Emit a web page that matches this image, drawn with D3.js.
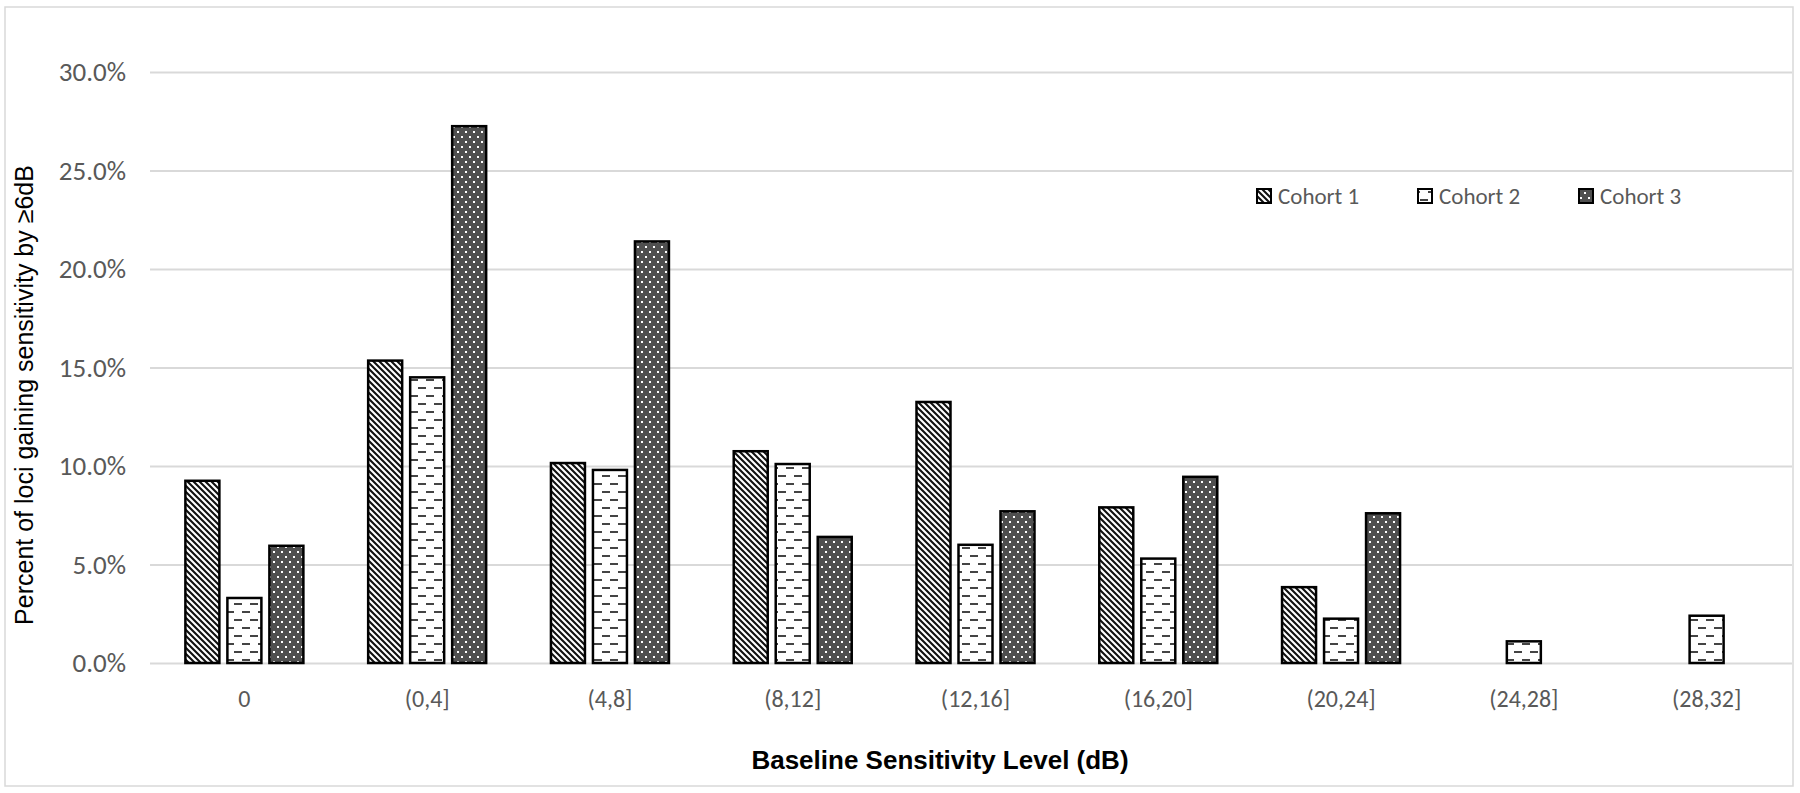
<!DOCTYPE html>
<html>
<head>
<meta charset="utf-8">
<script src="https://cdn.jsdelivr.net/npm/d3@7"></script>
<style>
  html, body { margin: 0; padding: 0; background: #ffffff; }
  svg { display: block; }
</style>
</head>
<body>
<div id="chart"></div>
<script>
// data (percent)
const categories = ["0", "(0,4]", "(4,8]", "(8,12]", "(12,16]", "(16,20]", "(20,24]", "(24,28]", "(28,32]"];
const seriesNames = ["Cohort 1", "Cohort 2", "Cohort 3"];
const cohort1 = [9.25, 15.35, 10.15, 10.75, 13.25, 7.9, 3.85, 0, 0];
const cohort2 = [3.3, 14.5, 9.8, 10.1, 6.0, 5.3, 2.25, 1.1, 2.4];
const cohort3 = [5.95, 27.25, 21.4, 6.4, 7.7, 9.45, 7.6, 0, 0];
const yTicks = [0, 5, 10, 15, 20, 25, 30];

const W = 1800, H = 793;
const plot = { left: 150, right: 1792, top: 72, bottom: 663 };
const labelFont = "Calibri, Carlito, Lato, sans-serif";
const titleFont = "Arial, 'Liberation Sans', sans-serif";

const seriesValues = [cohort1, cohort2, cohort3];
const rows = [];
categories.forEach((c, i) => {
  seriesNames.forEach((s, j) => {
    rows.push({ cat: c, series: s, idx: j, value: seriesValues[j][i] });
  });
});

const svg = d3.select("#chart").append("svg")
  .attr("width", W)
  .attr("height", H);

// fill patterns, one per cohort
const defs = svg.append("defs");

let p1 = defs.append("pattern").attr("id", "pat0")
  .attr("patternUnits", "userSpaceOnUse").attr("width", 6).attr("height", 6);
p1.append("rect").attr("width", 6).attr("height", 6).attr("fill", "#fff");
p1.append("path").attr("d", "M-1,-1 L7,7 M-4,2 L2,8 M4,-2 L8,2")
  .attr("stroke", "#111").attr("stroke-width", 2.1);

let p2 = defs.append("pattern").attr("id", "pat1")
  .attr("patternUnits", "userSpaceOnUse").attr("width", 16).attr("height", 16);
p2.append("rect").attr("width", 16).attr("height", 16).attr("fill", "#fff");
p2.append("path").attr("d", "M2,4 H10 M10,12 H16 M0,12 H2")
  .attr("stroke", "#444").attr("stroke-width", 2);

let p3 = defs.append("pattern").attr("id", "pat2")
  .attr("patternUnits", "userSpaceOnUse").attr("width", 8).attr("height", 10);
p3.append("rect").attr("width", 8).attr("height", 10).attr("fill", "#4f4f4f");
p3.append("rect").attr("x", 1).attr("y", 1).attr("width", 2).attr("height", 2).attr("fill", "#fff");
p3.append("rect").attr("x", 5).attr("y", 6).attr("width", 2).attr("height", 2).attr("fill", "#fff");

// chart area border
svg.append("rect")
  .attr("x", 5).attr("y", 7)
  .attr("width", 1788).attr("height", 779)
  .attr("fill", "#fff")
  .attr("stroke", "#d9d9d9")
  .attr("stroke-width", 1.5);

// scales
let x0 = d3.scaleBand().domain(categories).range([153, 1798]);
let x1 = d3.scaleBand().domain(seriesNames).range([0, 118]).paddingInner(8 / 42);
let y = d3.scaleLinear().domain([0, 30]).range([plot.bottom, plot.top]);

// y axis with gridlines
let yAxis = svg.append("g")
  .attr("transform", "translate(" + plot.left + ",0)")
  .call(d3.axisLeft(y)
    .tickValues(yTicks)
    .tickSize(-(plot.right - plot.left))
    .tickPadding(24)
    .tickFormat(d => d.toFixed(1) + "%"));
yAxis.select(".domain").remove();
yAxis.selectAll(".tick line").attr("stroke", "#d9d9d9").attr("stroke-width", 2);
yAxis.selectAll(".tick text")
  .attr("fill", "#595959")
  .style("font-family", labelFont)
  .style("font-size", "27px");

// x axis
let xAxis = svg.append("g")
  .attr("transform", "translate(0," + plot.bottom + ")")
  .call(d3.axisBottom(x0).tickSize(0).tickPadding(27));
xAxis.select(".domain").remove();
xAxis.selectAll(".tick text")
  .attr("fill", "#595959")
  .style("font-family", labelFont)
  .style("font-size", "24px");

// bars
svg.append("g")
  .selectAll("rect")
  .data(rows.filter(d => d.value > 0))
  .enter()
  .append("rect")
  .attr("x", d => x0(d.cat) + x0.bandwidth() / 2 - 59 + x1(d.series))
  .attr("y", d => y(d.value))
  .attr("width", x1.bandwidth())
  .attr("height", d => y(0) - y(d.value))
  .attr("fill", d => "url(#pat" + d.idx + ")")
  .attr("stroke", "#000")
  .attr("stroke-width", 2.5);

// axis titles
svg.append("text")
  .attr("transform", "translate(26,395) rotate(-90)")
  .attr("text-anchor", "middle")
  .attr("dominant-baseline", "middle")
  .style("font-family", titleFont)
  .style("font-size", "25px")
  .attr("fill", "#000")
  .text("Percent of loci gaining sensitivity by \u22656dB");

svg.append("text")
  .attr("x", 940)
  .attr("y", 769)
  .attr("text-anchor", "middle")
  .style("font-family", titleFont)
  .style("font-size", "26px")
  .style("font-weight", "bold")
  .attr("fill", "#000")
  .text("Baseline Sensitivity Level (dB)");

// legend
let legendX = 1257, legendY = 196, legendStep = 161;
let legend = svg.append("g").selectAll(".legendItem")
  .data(seriesNames)
  .enter()
  .append("g")
  .attr("class", "legendItem")
  .attr("transform", (d, i) => "translate(" + (legendX + legendStep * i) + "," + legendY + ")");

legend.append("rect")
  .attr("x", 0).attr("y", -7)
  .attr("width", 14).attr("height", 14)
  .attr("fill", (d, i) => "url(#pat" + i + ")")
  .attr("stroke", "#000")
  .attr("stroke-width", 2);

legend.append("text")
  .attr("x", 21)
  .attr("y", 0)
  .attr("dominant-baseline", "central")
  .attr("fill", "#595959")
  .style("font-family", labelFont)
  .style("font-size", "23px")
  .text(d => d);
</script>
</body>
</html>
